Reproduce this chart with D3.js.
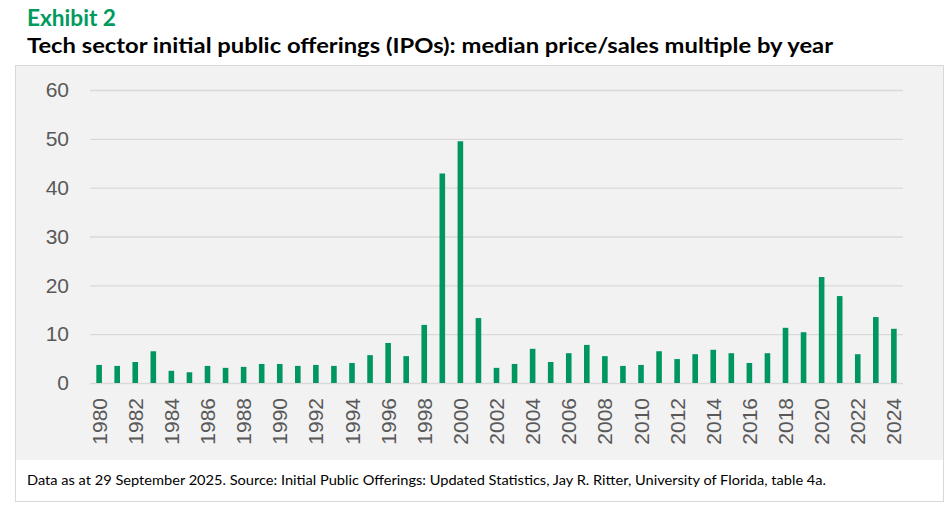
<!DOCTYPE html>
<html>
<head>
<meta charset="utf-8">
<script src="https://cdn.jsdelivr.net/npm/d3@7"></script>
<style>
  body { margin: 0; background: #fff; }
  .y-axis text, .x-axis text { font-family: "Liberation Sans", Arial, sans-serif; fill: #595959; }
  .y-axis line { stroke: #d9d9d9; stroke-width: 1.3; }
  .heading { font-family: Lato, "Noto Sans", sans-serif; }
</style>
</head>
<body>
<div id="chart"></div>
<script>
// Median price/sales multiple of tech IPOs
const years = ["1980","1981","1982","1983","1984","1985","1986","1987","1988","1989",
  "1990","1991","1992","1993","1994","1995","1996","1997","1998","1999",
  "2000","2001","2002","2003","2004","2005","2006","2007","2008","2009",
  "2010","2011","2012","2013","2014","2015","2016","2017","2018","2019",
  "2020","2021","2022","2023","2024"];
const priceSales = [3.7, 3.5, 4.3, 6.5, 2.5, 2.2, 3.5, 3.1, 3.3, 3.9,
  3.9, 3.5, 3.7, 3.5, 4.1, 5.7, 8.2, 5.5, 11.9, 42.9,
  49.5, 13.3, 3.1, 3.9, 7.0, 4.3, 6.1, 7.8, 5.5, 3.5,
  3.7, 6.5, 4.9, 5.9, 6.8, 6.1, 4.1, 6.1, 11.3, 10.4,
  21.7, 17.8, 5.9, 13.5, 11.1];
const xTickLabels = ["1980","1982","1984","1986","1988","1990","1992","1994","1996","1998",
  "2000","2002","2004","2006","2008","2010","2012","2014","2016","2018",
  "2020","2022","2024"];
const yTicks = [0, 10, 20, 30, 40, 50, 60];

const W = 952, H = 511;
const plot = { left: 90, right: 903, top: 90, bottom: 383 };

const svg = d3.select('#chart').append('svg')
  .attr('width', W).attr('height', H);

// frame: grey chart panel with white footer strip
svg.append('rect')
  .attr('x', 15.5).attr('y', 65.5).attr('width', 928).attr('height', 436)
  .attr('fill', '#fff').attr('stroke', '#d9d9d9');
svg.append('rect')
  .attr('x', 16).attr('y', 66).attr('width', 927).attr('height', 394)
  .attr('fill', '#f2f2f2');

// headings, squeezed to the width of the condensed original face
function heading(txt, x, y, size, width, color) {
  svg.append('text')
    .attr('class', 'heading')
    .attr('x', x).attr('y', y)
    .attr('font-size', size)
    .attr('font-weight', size > 16 ? 700 : 400)
    .attr('fill', color)
    .attr('textLength', width)
    .attr('lengthAdjust', 'spacingAndGlyphs')
    .text(txt);
}
heading('Exhibit 2', 27, 26, 22, 89, '#009a5f');
heading('Tech sector initial public offerings (IPOs): median price/sales multiple by year', 27, 53, 21.5, 806, '#000');
heading('Data as at 29 September 2025. Source: Initial Public Offerings: Updated Statistics, Jay R. Ritter, University of Florida, table 4a.', 27, 485, 14.3, 799, '#000');

const x = d3.scaleBand()
  .domain(years)
  .range([plot.left, plot.right])
  .paddingInner(0.69)
  .paddingOuter(0.35);

const y = d3.scaleLinear()
  .domain([0, 60])
  .range([plot.bottom, plot.top]);

// y axis with gridlines
const yAxis = svg.append('g')
  .attr('class', 'y-axis')
  .attr('transform', `translate(${plot.left},0)`)
  .call(d3.axisLeft(y).tickValues(yTicks).tickSize(-(plot.right - plot.left)).tickPadding(21));
yAxis.select('.domain').remove();
yAxis.selectAll('text').attr('font-size', 21);

// bars
svg.append('g')
  .selectAll('rect')
  .data(years)
  .join('rect')
  .attr('x', d => x(d))
  .attr('width', x.bandwidth())
  .attr('y', (d, i) => y(priceSales[i]))
  .attr('height', (d, i) => y(0) - y(priceSales[i]))
  .attr('fill', '#009660');

// x axis, rotated labels every other year
const xAxis = svg.append('g')
  .attr('class', 'x-axis')
  .attr('transform', `translate(0,${plot.bottom})`)
  .call(d3.axisBottom(x).tickValues(xTickLabels).tickSize(0));
xAxis.select('.domain').remove();
xAxis.selectAll('text')
  .attr('font-size', 21)
  .attr('transform', 'rotate(-90)')
  .attr('text-anchor', 'end')
  .attr('x', -15)
  .attr('y', 0)
  .attr('dy', '0.36em');
</script>
</body>
</html>
